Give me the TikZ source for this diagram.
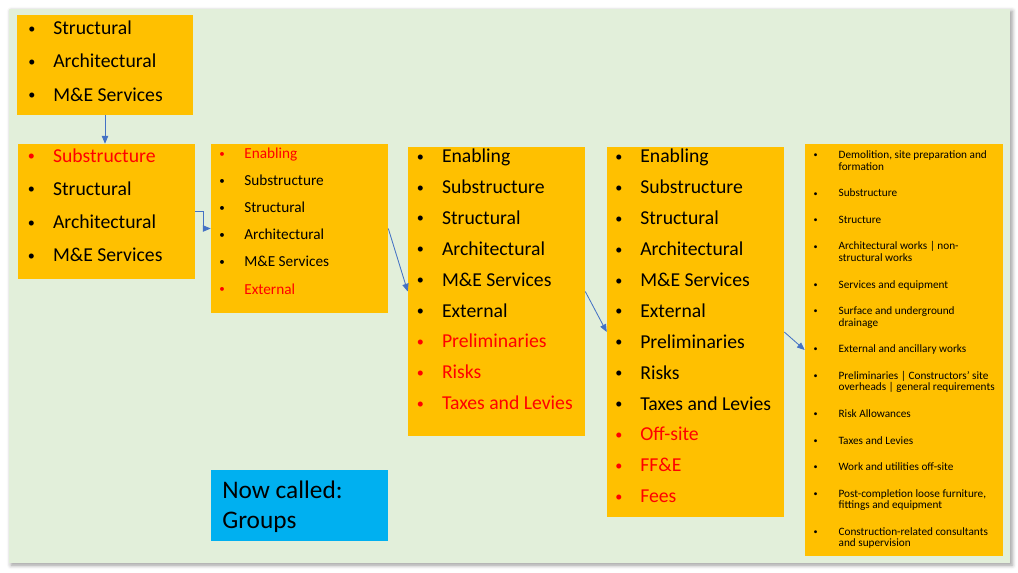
\documentclass[tikz,border=0pt]{standalone}
\usepackage{fontspec}
\setmainfont{Carlito}
\usetikzlibrary{fit,arrows.meta,shadows.blur}
\definecolor{bggreen}{HTML}{E2EFDA}
\definecolor{boxorange}{HTML}{FFC000}
\definecolor{connblue}{HTML}{4472C4}
\definecolor{groupcyan}{HTML}{00B0F0}
\newcommand{\itm}[1]{\makebox[17.8pt][l]{\raisebox{0.07em}{\scalebox{0.72}{\textbullet}}}#1}
\newcommand{\rtm}[1]{{\color{red}\itm{#1}}}
\newcommand{\cont}{\hspace*{17.8pt}}

\begin{document}
\begin{tikzpicture}[x=0.025cm,y=-0.025cm,>={Triangle[length=5.5pt,width=4.5pt]},
  box/.style={fill=boxorange,inner sep=0pt},
  liste/.style={anchor=base west,inner sep=0pt,align=left},
  conn/.style={->,draw=connblue,line width=0.6pt}]
\useasboundingbox (0,0) rectangle (1018,572);
% Hintergrund
\fill[bggreen,blur shadow={shadow xshift=1.5pt,shadow yshift=-1.5pt,shadow blur radius=3pt,shadow opacity=40}] (9,9) rectangle (1010,563);
% Kaesten
\node[box,fit={(17,15) (193,115)}] (top) {};
\node[box,fit={(18,144) (195,279)}] (sub) {};
\node[box,fit={(211,144) (388,313)}] (enab) {};
\node[box,fit={(408,147) (585,436)}] (prelim) {};
\node[box,fit={(607,147) (784,517)}] (offsite) {};
\node[box,fit={(805,144) (1003,556)}] (icms) {};
\node[fill=groupcyan,inner sep=0pt,fit={(211,470) (388,541)}] (groups) {};
% Listen (Anker = Grundlinie der letzten Zeile)
\node[liste,font=\fontsize{14pt}{23.6pt}\selectfont] (toptxt) at (28,101)
  {\itm{Structural}\\ \itm{Architectural}\\ \itm{M\&E Services}};
\node[liste,font=\fontsize{14pt}{23.6pt}\selectfont] (subtxt) at (27.7,261.7)
  {\rtm{Substructure}\\ \itm{Structural}\\ \itm{Architectural}\\ \itm{M\&E Services}};
\node[liste,font=\fontsize{10.85pt}{19.24pt}\selectfont] (enabtxt) at (219,294)
  {\rtm{Enabling}\\ \itm{Substructure}\\ \itm{Structural}\\ \itm{Architectural}\\ \itm{M\&E Services}\\ \rtm{External}};
\node[liste,font=\fontsize{14pt}{21.97pt}\selectfont] (prelimtxt) at (416.7,409.7)
  {\itm{Enabling}\\ \itm{Substructure}\\ \itm{Structural}\\ \itm{Architectural}\\ \itm{M\&E Services}\\ \itm{External}\\
   \rtm{Preliminaries}\\ \rtm{Risks}\\ \rtm{Taxes and Levies}};
\node[liste,font=\fontsize{14pt}{21.97pt}\selectfont] (offsitetxt) at (615,502.7)
  {\itm{Enabling}\\ \itm{Substructure}\\ \itm{Structural}\\ \itm{Architectural}\\ \itm{M\&E Services}\\ \itm{External}\\
   \itm{Preliminaries}\\ \itm{Risks}\\ \itm{Taxes and Levies}\\ \rtm{Off-site}\\ \rtm{FF\&E}\\ \rtm{Fees}};
\node[liste,font=\fontsize{8pt}{8.2pt}\selectfont] (icmstxt) at (813.3,546.8)
  {\itm{Demolition, site preparation and}\\ \cont formation\\[10.7pt]
   \itm{Substructure}\\[10.7pt]
   \itm{Structure}\\[10.7pt]
   \itm{Architectural works | non-}\\ \cont structural works\\[10.7pt]
   \itm{Services and equipment}\\[10.7pt]
   \itm{Surface and underground}\\ \cont drainage\\[10.7pt]
   \itm{External and ancillary works}\\[10.7pt]
   \itm{Preliminaries | Constructors’ site}\\ \cont overheads | general requirements\\[10.7pt]
   \itm{Risk Allowances}\\[10.7pt]
   \itm{Taxes and Levies}\\[10.7pt]
   \itm{Work and utilities off-site}\\[10.7pt]
   \itm{Post-completion loose furniture,}\\ \cont fittings and equipment\\[10.7pt]
   \itm{Construction-related consultants}\\ \cont and supervision};
\node[liste,font=\fontsize{18pt}{21.3pt}\selectfont] (groupstxt) at (222,528.3) {Now called:\\ Groups};
% Pfeile
\draw[conn] (top.south) -- (top.south|-sub.north);
\draw[conn] (sub.east) -- ++(8,0) |- (enab.west);
\draw[conn] (enab.east) -- (prelim.west);
\draw[conn] (prelim.east) -- (offsite.west);
\draw[conn] (offsite.east) -- (icms.west);
\end{tikzpicture}
\end{document}
